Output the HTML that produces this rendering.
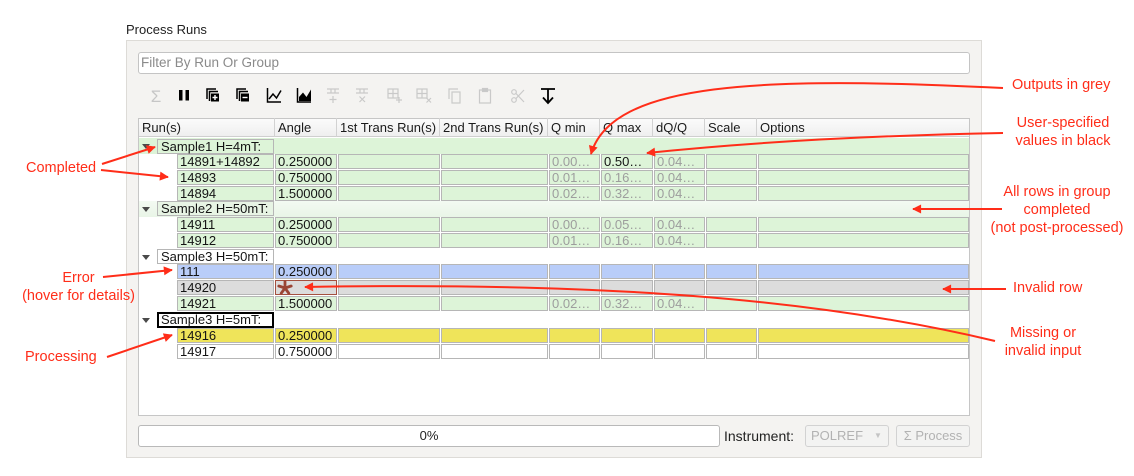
<!DOCTYPE html>
<html><head><meta charset="utf-8">
<style>
*{margin:0;padding:0;box-sizing:border-box}
html,body{width:1134px;height:476px;overflow:hidden;background:#fff;font-family:"Liberation Sans",sans-serif}
.a{position:absolute;white-space:nowrap}
.c{position:absolute;height:15px;border:1px solid #b6b6b6;font-size:13px;line-height:13px;padding-left:2px;white-space:nowrap;overflow:hidden;color:#141414}
.g{background:#ddf4d8}.b{background:#b9cdf9}.x{background:#dcdcdc}.y{background:#efe45a}.w{background:#fff}
.o{color:#9d9d9d}
.k1{left:177px;width:97px}.k2{left:275px;width:62px}.k3{left:338px;width:102px}.k4{left:441px;width:107px}
.k5{left:549px;width:51px}.k6{left:601px;width:52px}.k7{left:654px;width:51px}.k8{left:706px;width:51px}.k9{left:758px;width:211px}
.tri{position:absolute;left:142px;width:0;height:0;border-left:4px solid transparent;border-right:4px solid transparent;border-top:5px solid #4a4a4a}
.gl{position:absolute;left:157px;width:117px;height:15px;border:1px solid #b6b6b6;font-size:13px;line-height:13px;padding-left:3px;color:#141414;white-space:nowrap}
.h{position:absolute;top:118px;height:19px;font-size:13px;line-height:19px;color:#1a1a1a;padding-left:3px;border-right:1px solid #d2d2d2}
.r{color:#ff2d19;font-size:14.5px;line-height:18px;position:absolute;white-space:nowrap}
</style></head><body>

<div class="a" style="left:126px;top:22px;font-size:13px;line-height:16px;color:#222">Process Runs</div>
<div class="a" style="left:126px;top:40px;width:856px;height:418px;background:#f4f3f1;border:1px solid #dddbd7"></div>

<div class="a" style="left:138px;top:52px;width:832px;height:22px;background:#fff;border:1px solid #c4c4c4;border-radius:3px"></div>
<div class="a" style="left:141px;top:55px;font-size:13.5px;line-height:16px;color:#8a8a8a">Filter By Run Or Group</div>

<!-- table -->
<div class="a" style="left:138px;top:118px;width:832px;height:298px;background:#fff;border:1px solid #c6c6c6"></div>
<div class="a" style="left:139px;top:119px;width:830px;height:18px;background:linear-gradient(#fbfbfb,#efefef);border-bottom:1px solid #cfcfcf"></div>
<div class="h" style="left:139px;width:136px">Run(s)</div>
<div class="h" style="left:275px;width:62px">Angle</div>
<div class="h" style="left:337px;width:103px">1st Trans Run(s)</div>
<div class="h" style="left:440px;width:108px">2nd Trans Run(s)</div>
<div class="h" style="left:548px;width:52px">Q min</div>
<div class="h" style="left:600px;width:53px">Q max</div>
<div class="h" style="left:653px;width:52px">dQ/Q</div>
<div class="h" style="left:705px;width:52px">Scale</div>
<div class="h" style="left:757px;width:212px;border-right:none">Options</div>

<!-- group 1 -->
<div class="a" style="left:139px;top:138px;width:830px;height:16px;background:#ddf4d8"></div>
<div class="tri" style="top:144px"></div>
<div class="gl g" style="top:139px">Sample1 H=4mT:</div>
<div class="c g k1" style="top:154px">14891+14892</div><div class="c g k2" style="top:154px">0.250000</div><div class="c g k3" style="top:154px"></div><div class="c g k4" style="top:154px"></div><div class="c g k5 o" style="top:154px">0.00…</div><div class="c g k6" style="top:154px">0.50…</div><div class="c g k7 o" style="top:154px">0.04…</div><div class="c g k8" style="top:154px"></div><div class="c g k9" style="top:154px"></div>
<div class="c g k1" style="top:170px">14893</div><div class="c g k2" style="top:170px">0.750000</div><div class="c g k3" style="top:170px"></div><div class="c g k4" style="top:170px"></div><div class="c g k5 o" style="top:170px">0.01…</div><div class="c g k6 o" style="top:170px">0.16…</div><div class="c g k7 o" style="top:170px">0.04…</div><div class="c g k8" style="top:170px"></div><div class="c g k9" style="top:170px"></div>
<div class="c g k1" style="top:186px">14894</div><div class="c g k2" style="top:186px">1.500000</div><div class="c g k3" style="top:186px"></div><div class="c g k4" style="top:186px"></div><div class="c g k5 o" style="top:186px">0.02…</div><div class="c g k6 o" style="top:186px">0.32…</div><div class="c g k7 o" style="top:186px">0.04…</div><div class="c g k8" style="top:186px"></div><div class="c g k9" style="top:186px"></div>

<!-- group 2 -->
<div class="a" style="left:139px;top:201px;width:830px;height:16px;background:linear-gradient(#f3faf2,#e9f5e7)"></div>
<div class="tri" style="top:207px"></div>
<div class="gl" style="top:201px;background:#e7f4e4">Sample2 H=50mT:</div>
<div class="c g k1" style="top:217px">14911</div><div class="c g k2" style="top:217px">0.250000</div><div class="c g k3" style="top:217px"></div><div class="c g k4" style="top:217px"></div><div class="c g k5 o" style="top:217px">0.00…</div><div class="c g k6 o" style="top:217px">0.05…</div><div class="c g k7 o" style="top:217px">0.04…</div><div class="c g k8" style="top:217px"></div><div class="c g k9" style="top:217px"></div>
<div class="c g k1" style="top:233px">14912</div><div class="c g k2" style="top:233px">0.750000</div><div class="c g k3" style="top:233px"></div><div class="c g k4" style="top:233px"></div><div class="c g k5 o" style="top:233px">0.01…</div><div class="c g k6 o" style="top:233px">0.16…</div><div class="c g k7 o" style="top:233px">0.04…</div><div class="c g k8" style="top:233px"></div><div class="c g k9" style="top:233px"></div>

<!-- group 3 -->
<div class="tri" style="top:255px"></div>
<div class="gl w" style="top:249px">Sample3 H=50mT:</div>
<div class="c b k1" style="top:264px">111</div><div class="c b k2" style="top:264px">0.250000</div><div class="c b k3" style="top:264px"></div><div class="c b k4" style="top:264px"></div><div class="c b k5" style="top:264px"></div><div class="c b k6" style="top:264px"></div><div class="c b k7" style="top:264px"></div><div class="c b k8" style="top:264px"></div><div class="c b k9" style="top:264px"></div>
<div class="c x k1" style="top:280px">14920</div><div class="c x k2" style="top:280px;border-color:#a4503f"></div><div class="c x k3" style="top:280px"></div><div class="c x k4" style="top:280px"></div><div class="c x k5" style="top:280px"></div><div class="c x k6" style="top:280px"></div><div class="c x k7" style="top:280px"></div><div class="c x k8" style="top:280px"></div><div class="c x k9" style="top:280px"></div>
<div class="c g k1" style="top:296px">14921</div><div class="c g k2" style="top:296px">1.500000</div><div class="c g k3" style="top:296px"></div><div class="c g k4" style="top:296px"></div><div class="c g k5 o" style="top:296px">0.02…</div><div class="c g k6 o" style="top:296px">0.32…</div><div class="c g k7 o" style="top:296px">0.04…</div><div class="c g k8" style="top:296px"></div><div class="c g k9" style="top:296px"></div>

<!-- group 4 -->
<div class="tri" style="top:318px"></div>
<div class="gl w" style="top:312px;height:16px;border:2px solid #000;padding-left:2px;line-height:12px">Sample3 H=5mT:</div>
<div class="c y k1" style="top:328px">14916</div><div class="c y k2" style="top:328px">0.250000</div><div class="c y k3" style="top:328px"></div><div class="c y k4" style="top:328px"></div><div class="c y k5" style="top:328px"></div><div class="c y k6" style="top:328px"></div><div class="c y k7" style="top:328px"></div><div class="c y k8" style="top:328px"></div><div class="c y k9" style="top:328px"></div>
<div class="c w k1" style="top:344px">14917</div><div class="c w k2" style="top:344px">0.750000</div><div class="c w k3" style="top:344px"></div><div class="c w k4" style="top:344px"></div><div class="c w k5" style="top:344px"></div><div class="c w k6" style="top:344px"></div><div class="c w k7" style="top:344px"></div><div class="c w k8" style="top:344px"></div><div class="c w k9" style="top:344px"></div>

<!-- bottom bar -->
<div class="a" style="left:138px;top:425px;width:582px;height:22px;background:#fff;border:1px solid #b9b9b9;border-radius:3px;font-size:13px;line-height:20px;text-align:center;color:#222">0%</div>
<div class="a" style="left:724px;top:428px;font-size:14px;line-height:16px;color:#222">Instrument:</div>
<div class="a" style="left:805px;top:425px;width:84px;height:22px;background:#f3f3f2;border:1px solid #d2d2d2;border-radius:3px;font-size:13px;line-height:20px;padding-left:5px;color:#b2b2b2">POLREF<span style="position:absolute;left:68px;top:0;font-size:8px;color:#c4c4c4">▼</span></div>
<div class="a" style="left:896px;top:425px;width:74px;height:22px;background:#f3f3f2;border:1px solid #d2d2d2;border-radius:3px;font-size:13px;line-height:20px;text-align:center;color:#b2b2b2">Σ Process</div>

<!-- toolbar icons -->
<svg class="a" style="left:0;top:0" width="1134" height="476" viewBox="0 0 1134 476">
<text x="156" y="102" font-size="17" fill="#c6c6c6" text-anchor="middle" font-family="Liberation Sans, sans-serif">Σ</text>
<rect x="179" y="90" width="3.5" height="10.5" fill="#000"/><rect x="185.5" y="90" width="3.5" height="10.5" fill="#000"/>
<g fill="none" stroke="#000" stroke-width="1.5">
<path d="M207,99 V89 H216"/><path d="M209.5,101 V91.5 H218"/>
<path d="M237,99 V89 H246"/><path d="M239.5,101 V91.5 H248"/>
<path d="M267.5,88 V102 H281"/><polyline points="269,99 273,94 276.5,98 281,90.5"/>
<path d="M297.5,88 V102 H311"/>
</g>
<rect x="211" y="93.5" width="8" height="8" fill="#000"/><path d="M215,95 V100 M212.5,97.5 H217.5" stroke="#fff" stroke-width="1.4"/>
<rect x="241" y="93.5" width="8" height="8" fill="#000"/><path d="M242.5,97.5 H247.5" stroke="#fff" stroke-width="1.4"/>
<polygon points="299,101 299,97 303,92.5 306.5,97 311,89.5 311,101" fill="#000"/>
<g fill="none" stroke="#c9c9c9" stroke-width="1.2">
<path d="M327,89 H339 M327,93 H339 M331,89 V93 M335,89 V93 M333,96 V103 M329.5,99.5 H336.5"/>
<path d="M356,89 H368 M356,93 H368 M360,89 V93 M364,89 V93 M359.5,96.5 L365,102 M365,96.5 L359.5,102"/>
<rect x="388" y="89" width="10" height="9"/><path d="M388,93.5 H398 M393,89 V98 M399,97 V103 M396,100 H402"/>
<rect x="417" y="89" width="10" height="9"/><path d="M417,93.5 H427 M422,89 V98 M426.5,98 L431,102.5 M431,98 L426.5,102.5"/>
<path d="M449,99 V89 H458"/><rect x="452" y="92" width="8" height="11"/>
<rect x="479.5" y="90" width="11" height="13"/><rect x="482.5" y="88.5" width="5" height="3" fill="#c9c9c9"/>
<circle cx="514" cy="100" r="2.3"/><circle cx="514" cy="92" r="2.3"/><path d="M516,98.5 L524,90 M516,93.5 L524,102"/>
</g>
<path d="M541,89 H555 M548,89 V103 M543,97.5 L548,103 L553,97.5" fill="none" stroke="#000" stroke-width="1.8"/>
<!-- star -->
<g stroke="#9a4535" stroke-width="2.8" stroke-linecap="round">
<path d="M285,288 L285,281.5 M285,288 L291.2,286 M285,288 L288.8,293.3 M285,288 L281.2,293.3 M285,288 L278.8,286"/>
</g>
</svg>

<!-- annotations -->
<div class="r" style="left:26px;top:159px">Completed</div>
<div class="r" style="left:20px;top:269px;width:117px;text-align:center">Error<br>(hover for details)</div>
<div class="r" style="left:25px;top:348px">Processing</div>
<div class="r" style="left:1012px;top:76px">Outputs in grey</div>
<div class="r" style="left:1003px;top:114px;width:120px;text-align:center">User-specified<br>values in black</div>
<div class="r" style="left:987px;top:183px;width:140px;text-align:center">All rows in group<br>completed<br>(not post-processed)</div>
<div class="r" style="left:1013px;top:279px">Invalid row</div>
<div class="r" style="left:993px;top:324px;width:100px;text-align:center">Missing or<br>invalid input</div>

<svg class="a" style="left:0;top:0" width="1134" height="476" viewBox="0 0 1134 476">
<defs>
<marker id="ah" viewBox="0 0 10 10" refX="9" refY="5" markerWidth="12" markerHeight="9" markerUnits="userSpaceOnUse" orient="auto">
<path d="M0,0 L10,5 L0,10 z" fill="#ff2d19"/>
</marker>
</defs>
<g fill="none" stroke="#ff2d19" stroke-width="2" marker-end="url(#ah)">
<path d="M102,164 L155,147"/>
<path d="M101,170 L168,177"/>
<path d="M103,277 L172,270"/>
<path d="M107,357 L172,335"/>
<path d="M1003,88 C760,76 612,82 591,154"/>
<path d="M1003,133 Q800,137 647,153"/>
<path d="M1002,209 L913,209"/>
<path d="M1006,289 L943,289"/>
<path d="M995,341 C815,298 600,282 305,287"/>
</g>
</svg>
</body></html>
